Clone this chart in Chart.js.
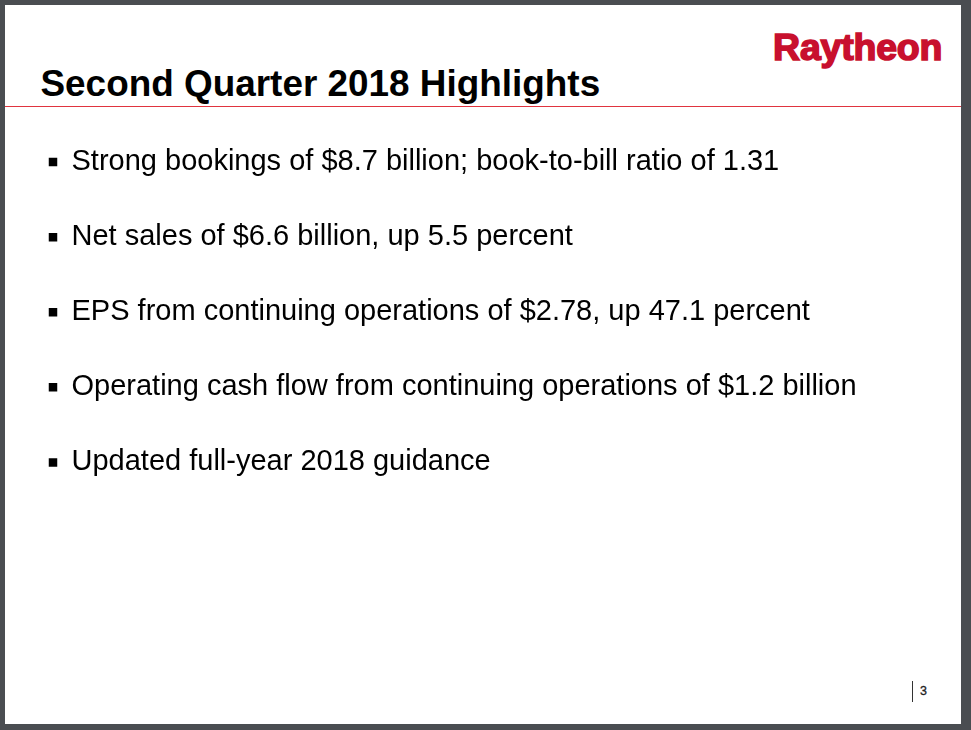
<!doctype html>
<html lang="en">
    <head>
        <meta charset="UTF-8" />
        <title>Second Quarter 2018 Highlights</title>
        <style>
            html, body {
                margin: 0;
                padding: 0;
                width: 971px;
                height: 730px;
                overflow: hidden;
                background: #4a4d51;
                font-family: "Liberation Sans", Arial, sans-serif;
            }
            .page {
                position: absolute;
                left: 5px;
                top: 5px;
                width: 956px;
                height: 719px;
                background: #fff;
            }
            .title {
                position: absolute;
                left: 40.5px;
                top: 65.5px;
                font-size: 36.9px;
                line-height: 1;
                font-weight: bold;
                color: #000;
                white-space: nowrap;
            }
            .logo {
                position: absolute;
                left: 773px;
                top: 29px;
                font-size: 37.5px;
                line-height: 1;
                font-weight: bold;
                color: #c8102e;
                -webkit-text-stroke: 1.6px #c8102e;
                letter-spacing: -0.2px;
                white-space: nowrap;
            }
            .rule {
                position: absolute;
                left: 5px;
                top: 105.5px;
                width: 956px;
                height: 1.5px;
                background: #e0343f;
            }
            .pageBar {
                position: absolute;
                left: 911.5px;
                top: 681px;
                width: 1px;
                height: 21px;
                background: #333;
            }
            .pageNum {
                position: absolute;
                left: 920px;
                top: 684.5px;
                font-size: 12.5px;
                line-height: 1;
                color: #222;
                -webkit-text-stroke: 0.3px #222;
            }
            .chartBox {
                position: absolute;
                left: 0;
                top: 0;
                width: 971px;
                height: 730px;
            }
        </style>
    </head>
    <body>
        <div class="page"></div>
        <div class="rule"></div>
        <div class="title">Second Quarter 2018 Highlights</div>
        <div class="logo">Raytheon</div>
        <div class="pageBar"></div>
        <div class="pageNum">3</div>
        <div class="chartBox">
            <canvas id="myChart"></canvas>
        </div>

        <script src="https://cdn.jsdelivr.net/npm/chart.js"></script>
        <script>
            // setup
            const bulletLabels = [
                "Strong bookings of $8.7 billion; book-to-bill ratio of 1.31",
                "Net sales of $6.6 billion, up 5.5 percent",
                "EPS from continuing operations of $2.78, up 47.1 percent",
                "Operating cash flow from continuing operations of $1.2 billion",
                "Updated full-year 2018 guidance",
            ];
            const bulletMarks = [0, 0, 0, 0, 0];

            const data = {
                labels: bulletLabels,
                datasets: [
                    {
                        data: bulletMarks,
                        showLine: false,
                        pointStyle: "rect",
                        pointRadius: 6,
                        pointHoverRadius: 6,
                        borderWidth: 0,
                        backgroundColor: "#000",
                        borderColor: "#000",
                    },
                ],
            };
            // config
            const config = {
                type: "line",
                data: data,
                options: {
                    indexAxis: "y",
                    responsive: true,
                    maintainAspectRatio: false,
                    animation: false,
                    events: [],
                    layout: {
                        padding: { left: 46, top: 124.5, bottom: 230, right: 0 },
                    },
                    plugins: {
                        legend: { display: false },
                        tooltip: { enabled: false },
                    },
                    scales: {
                        x: {
                            type: "linear",
                            display: false,
                            min: -1,
                            max: 1,
                        },
                        y: {
                            type: "category",
                            position: "right",
                            offset: true,
                            grid: { display: false },
                            border: { display: false },
                            afterFit(scale) {
                                // keep the plot strip narrow so the labels sit beside the bullets
                                scale.width = 971 - 60;
                            },
                            ticks: {
                                autoSkip: false,
                                padding: 3.5,
                                color: "#000",
                                font: {
                                    family: "'Liberation Sans', Arial, sans-serif",
                                    size: 29,
                                },
                            },
                        },
                    },
                },
            };
            // init
            var ctx = document.getElementById("myChart").getContext("2d");
            new Chart(ctx, config);
        </script>
    </body>
</html>
